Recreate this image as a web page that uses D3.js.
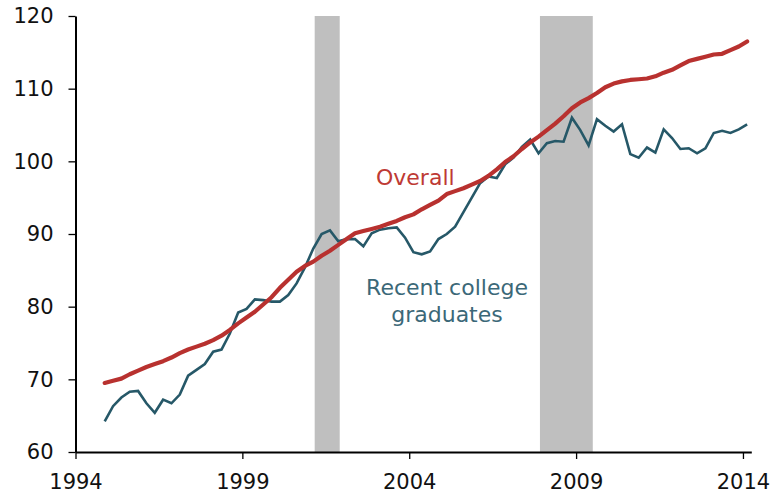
<!DOCTYPE html>
<html lang="en">

<head>
	<meta charset="utf-8">
	<title>Wages: recent college graduates vs overall</title>
	<script type="text/javascript" src="https://cdn.jsdelivr.net/npm/d3@7"></script>
	<style type="text/css">
		body { margin: 0; background: #fff; }
		text { font-family: "DejaVu Sans", Verdana, sans-serif; }
	</style>
</head>

<body>
	<script type="text/javascript">
		// quarterly series, 1994Q4 .. 2014Q1 (plotted at mid-quarter)
		const firstYear = 1994, firstQuarter = 4, nQuarters = 78;
		const quarters = d3.range(nQuarters).map(function (i) {
			const q = firstQuarter - 1 + i;
			return (firstYear + Math.floor(q / 4)) + "Q" + (q % 4 + 1);
		});

		const recentGrads = [
			64.2, 66.3, 67.5, 68.3, 68.4, 66.7, 65.4, 67.2, 66.7, 67.9,
			70.5, 71.3, 72.1, 73.8, 74.1, 76.3, 79.2, 79.7, 81.0, 80.9,
			80.7, 80.7, 81.6, 83.2, 85.4, 88.0, 90.0, 90.5, 89.0, 89.3,
			89.3, 88.3, 90.1, 90.6, 90.8, 90.9, 89.5, 87.5, 87.2, 87.6,
			89.3, 90.0, 91.0, 93.0, 95.0, 97.0, 97.9, 97.7, 99.6, 100.5,
			102.0, 103.0, 101.1, 102.5, 102.8, 102.7, 106.0, 104.3, 102.2, 105.8,
			104.9, 104.1, 105.1, 101.0, 100.5, 101.9, 101.2, 104.4, 103.2, 101.7,
			101.8, 101.1, 101.8, 103.9, 104.2, 103.9, 104.4, 105.1
		];
		const overall = [
			69.5, 69.8, 70.1, 70.7, 71.2, 71.7, 72.1, 72.5, 73.0, 73.6,
			74.1, 74.5, 74.9, 75.4, 76.0, 76.8, 77.7, 78.5, 79.3, 80.3,
			81.3, 82.6, 83.7, 84.8, 85.6, 86.2, 87.0, 87.7, 88.5, 89.3,
			90.1, 90.4, 90.7, 91.0, 91.4, 91.8, 92.3, 92.7, 93.4, 94.0,
			94.6, 95.5, 95.9, 96.3, 96.8, 97.3, 98.0, 98.9, 99.9, 100.7,
			101.7, 102.6, 103.4, 104.3, 105.2, 106.2, 107.3, 108.1, 108.7, 109.4,
			110.2, 110.7, 111.0, 111.2, 111.3, 111.4, 111.7, 112.2, 112.6, 113.2,
			113.8, 114.1, 114.4, 114.7, 114.8, 115.3, 115.8, 116.5
		];
		// NBER recessions
		const recessions = [[2001.167, 2001.917], [2007.917, 2009.5]];
		const xTicks = [1994, 1999, 2004, 2009, 2014];
		const yTicks = [60, 70, 80, 90, 100, 110, 120];

		const width = 782, height = 495;
		const plotLeft = 75.5, plotRight = 751.3, plotTop = 16, plotBottom = 452;

		function qToYear(s) {
			return +s.slice(0, 4) + (+s.slice(5) - 1) / 4 + 0.125;
		}

		const x = d3.scaleLinear().domain([1994, 2014.25]).range([plotLeft, plotRight]);
		const y = d3.scaleLinear().domain([60, 120]).range([plotBottom, plotTop]);

		const svg = d3.select("body")
			.append("svg")
			.attr("width", width)
			.attr("height", height);

		svg.selectAll("rect.rec")
			.data(recessions)
			.enter().append("rect")
			.attr("class", "rec")
			.attr("x", d => x(d[0]))
			.attr("width", d => x(d[1]) - x(d[0]))
			.attr("y", y(120))
			.attr("height", y(60) - y(120))
			.attr("fill", "#bfbfbf");

		const line = d3.line()
			.x((d, i) => x(qToYear(quarters[i])))
			.y(d => y(d));

		svg.append("path")
			.datum(recentGrads)
			.attr("fill", "none")
			.attr("stroke", "#265868")
			.attr("stroke-width", 2.6)
			.attr("d", line);

		svg.append("path")
			.datum(overall)
			.attr("fill", "none")
			.attr("stroke", "#b8312f")
			.attr("stroke-width", 4.2)
			.attr("stroke-linejoin", "round")
			.attr("stroke-linecap", "round")
			.attr("d", line);

		// axes
		const yAxis = svg.append("g")
			.attr("transform", "translate(" + plotLeft + ",0)")
			.call(d3.axisLeft(y).tickValues(yTicks).tickSize(7).tickPadding(15).tickSizeOuter(0));
		const xAxis = svg.append("g")
			.attr("transform", "translate(0," + plotBottom + ")")
			.call(d3.axisBottom(x).tickValues(xTicks).tickFormat(d3.format("d")).tickSize(7).tickPadding(15).tickSizeOuter(0));

		[yAxis, xAxis].forEach(function (g) {
			g.select(".domain").attr("stroke", "#000").attr("stroke-width", 2);
			g.selectAll(".tick line").attr("stroke", "#000").attr("stroke-width", 1.3);
			g.selectAll(".tick text")
				.attr("fill", "#111")
				.style("font-size", "21px")
				.style("font-family", "'DejaVu Sans', Verdana, sans-serif");
		});

		// series labels
		svg.append("text")
			.attr("x", 376)
			.attr("y", 185)
			.attr("fill", "#be3a34")
			.style("font-size", "22px")
			.text("Overall");

		const lab = svg.append("text")
			.attr("text-anchor", "middle")
			.attr("fill", "#3b6878")
			.style("font-size", "22px");
		lab.append("tspan").attr("x", 447).attr("y", 295).text("Recent college");
		lab.append("tspan").attr("x", 447).attr("y", 322).text("graduates");
	</script>
</body>

</html>
